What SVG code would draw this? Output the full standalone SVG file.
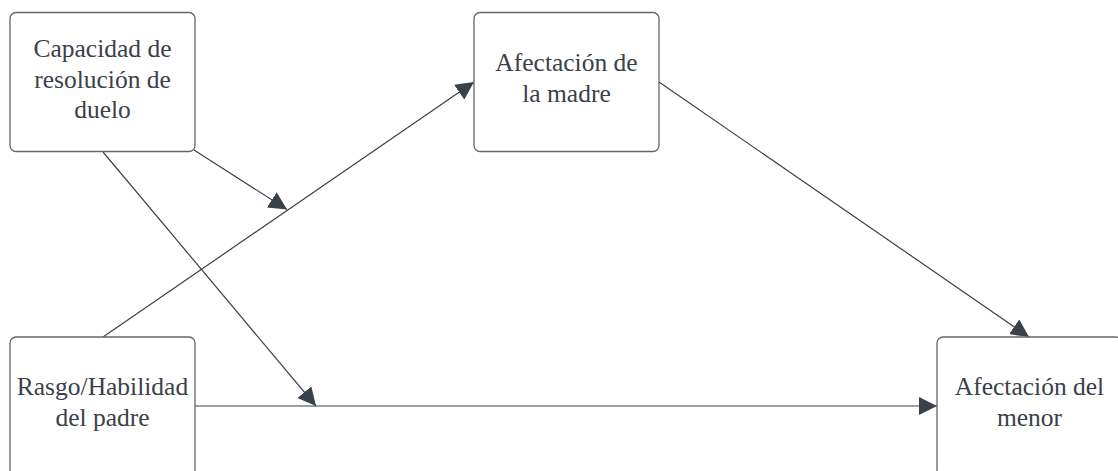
<svg xmlns="http://www.w3.org/2000/svg" width="1118" height="471" viewBox="0 0 1118 471">
<style>
.box{fill:#ffffff;stroke:#63666b;stroke-width:1.3}
.lbl{font-family:"Liberation Serif","Times New Roman",serif;font-size:25.5px;fill:#3a414a;text-anchor:middle}
.edge{stroke:#3a414a;stroke-width:1.2;fill:none;marker-end:url(#arr)}
</style>
<defs>
<marker id="arr" markerUnits="userSpaceOnUse" markerWidth="19" markerHeight="18" refX="18" refY="9" orient="auto">
<path d="M0,0 L18,9 L0,18 z" fill="#3a414a"/>
</marker>
</defs>
<rect width="1118" height="471" fill="#ffffff"/>
<g id="edges">
<line class="edge" x1="103" y1="337" x2="474" y2="82"/>
<line class="edge" x1="194" y1="150" x2="287" y2="209.5"/>
<line class="edge" x1="103" y1="152" x2="316" y2="406"/>
<line class="edge" x1="195" y1="406" x2="937" y2="406"/>
<line class="edge" x1="659" y1="82" x2="1029" y2="337"/>
</g>
<g id="n_capacidad">
<rect class="box" x="10" y="12.5" width="185" height="139" rx="6"/>
<text class="lbl" x="102.5" y="57">Capacidad de</text>
<text class="lbl" x="102.5" y="88">resolución de</text>
<text class="lbl" x="102.5" y="118">duelo</text>
</g>
<g id="n_madre">
<rect class="box" x="474" y="12.5" width="185" height="139" rx="6"/>
<text class="lbl" x="566.5" y="71">Afectación de</text>
<text class="lbl" x="566.5" y="102">la madre</text>
</g>
<g id="n_padre">
<rect class="box" x="10" y="337" width="185" height="139" rx="6"/>
<text class="lbl" x="102.5" y="395">Rasgo/Habilidad</text>
<text class="lbl" x="102.5" y="426">del padre</text>
</g>
<g id="n_menor">
<rect class="box" x="937" y="337" width="185" height="139" rx="6"/>
<text class="lbl" x="1029.5" y="395">Afectación del</text>
<text class="lbl" x="1029.5" y="426">menor</text>
</g>
</svg>
